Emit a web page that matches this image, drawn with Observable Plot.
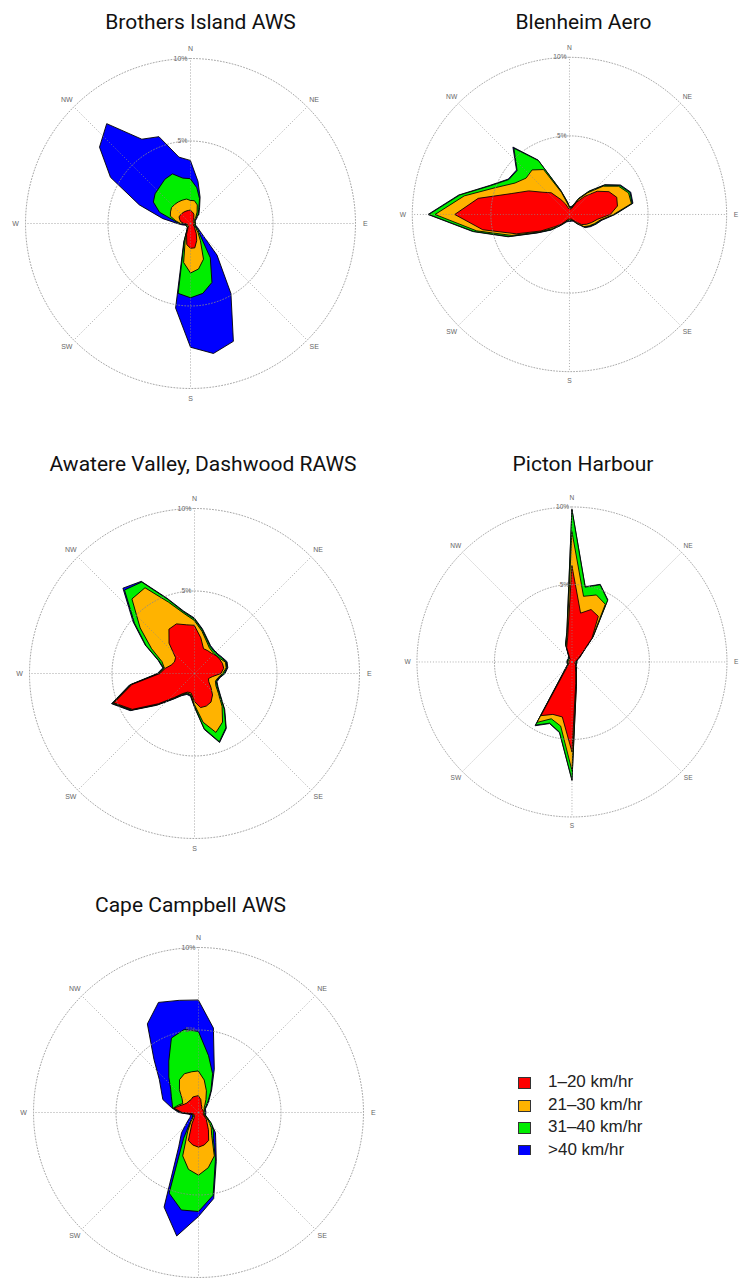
<!DOCTYPE html>
<html>
<head>
<meta charset="utf-8">
<script src="https://cdn.jsdelivr.net/npm/d3@7"></script>
<script src="https://cdn.jsdelivr.net/npm/@observablehq/plot@0.6"></script>
<style>
  html, body { margin: 0; padding: 0; background: #fff; overflow: hidden; }
  #page { position: relative; width: 750px; height: 1285px; overflow: hidden; }
  .title { position: absolute; font-family: Roboto, "Noto Sans", sans-serif; font-size: 21px; line-height: 21px;
           color: #111; white-space: nowrap; transform: translateX(-50%); }
  .rose { position: absolute; }
  .rose svg { display: block; overflow: visible; }
  #legend { position: absolute; left: 518px; top: 1075px; width: 200px; height: 80px; overflow: hidden;
            font-family: "Liberation Sans", Arial, sans-serif; font-size: 17px; color: #222; }
  .row { position: relative; height: 22.5px; }
  .sw { position: absolute; left: 0; top: 2px; width: 11px; height: 10px; border: 1px solid #333; }
  .lab { position: absolute; left: 30px; top: -3px; white-space: nowrap; line-height: 20px; }
</style>
</head>
<body>
<div id="page"></div>
<script>
// ---- categories / labels ----
const directions = d3.range(0, 360, 10);            // degrees clockwise from north
const bands = ["1\u201320 km/hr", "21\u201330 km/hr", "31\u201340 km/hr", ">40 km/hr"];
const bandColors = ["#ff0000", "#ffb300", "#00ee00", "#0000ff"];
const compassLabels = ["N", "NE", "E", "SE", "S", "SW", "W", "NW"];
const compassAngles = [0, 45, 90, 135, 180, 225, 270, 315];
const ringValues = [5, 10];
const ringLabels = ["5%", "10%"];
const stationNames = ["Brothers Island AWS", "Blenheim Aero", "Awatere Valley, Dashwood RAWS", "Picton Harbour", "Cape Campbell AWS"];

// ---- cumulative frequency (%) per direction: [<=20, <=30, <=40, all] ----
const brothersIsland = [
  [0.8,0.7,0.6,0.4,0.3,0.2,0.2,0.2,0.2,0.2, 0.2,0.2,0.2,0.3,0.4,0.7,1.1,1.5,1.5,1.3, 0.7,0.3,0.2,0.2,0.2,0.2,0.2,0.4,0.6,0.7, 0.8,0.8,0.8,0.8,0.8,0.8],
  [1.4,1.4,1.2,0.8,0.5,0.3,0.25,0.25,0.25,0.25, 0.25,0.25,0.25,0.4,0.7,1.2,2.3,2.8,3.0,2.4, 0.9,0.4,0.25,0.25,0.25,0.25,0.25,0.6,0.9,1.3, 1.4,1.5,1.5,1.5,1.5,1.5],
  [2.7,2.2,1.6,1.0,0.7,0.4,0.3,0.3,0.3,0.3, 0.3,0.3,0.35,0.6,0.9,2.4,3.8,4.3,4.5,4.3, 1.1,0.4,0.3,0.3,0.3,0.3,0.3,0.7,1.0,2.0, 2.6,2.8,2.9,3.1,3.2,2.8],
  [3.8,2.6,1.7,1.1,0.8,0.5,0.35,0.3,0.3,0.3, 0.3,0.35,0.5,0.8,2.5,4.9,7.6,8.0,7.5,5.2, 1.2,0.4,0.3,0.3,0.3,0.3,0.5,0.8,1.7,3.3, 5.6,7.2,7.9,5.9,5.6,4.1]
];
const blenheimAero = [
  [0.4,0.35,0.4,0.9,1.5,2.3,2.9,3.2,3.1,2.6, 1.8,1.5,1.25,1.0,0.6,0.4,0.3,0.3,0.3,0.3, 0.35,0.5,0.8,1.2,2.1,3.6,5.6,7.3,5.9,3.9, 3.0,2.2,1.8,1.1,0.7,0.4],
  [0.45,0.4,0.5,1.1,1.8,2.8,3.6,4.0,4.0,2.8, 2.0,1.7,1.45,1.2,0.7,0.4,0.35,0.35,0.35,0.35, 0.4,0.55,0.85,1.4,2.2,3.9,6.0,8.55,6.8,5.0, 4.0,3.6,3.7,3.3,1.5,0.7],
  [0.5,0.45,0.55,1.15,1.9,2.9,3.7,4.1,4.05,2.85, 2.05,1.75,1.5,1.25,0.75,0.45,0.4,0.4,0.4,0.4, 0.45,0.6,0.9,1.5,2.3,4.1,6.2,8.95,7.1,5.35, 4.45,4.35,5.5,3.96,1.6,0.8],
  [0.55,0.5,0.6,1.2,1.95,2.95,3.75,4.15,4.1,2.9, 2.1,1.8,1.55,1.3,0.8,0.5,0.45,0.45,0.45,0.45, 0.5,0.65,0.95,1.55,2.35,4.15,6.25,9.0,7.15,5.4, 4.5,4.4,5.6,4.0,1.65,0.85]
];
const awatereDashwood = [
  [2.9,2.2,1.6,1.6,1.6,1.7,1.75,1.8,1.8,1.6, 1.1,0.9,1.0,1.3,1.7,2.0,2.1,2.1,1.7,1.2, 1.2,1.4,1.9,2.85,4.35,5.2,3.85,2.1,1.8,1.5, 1.4,1.5,2.4,3.1,3.2,3.0],
  [3.2,2.6,2.1,1.8,1.7,1.7,1.8,2.0,1.95,1.7, 1.45,1.35,1.5,1.9,2.6,3.4,3.8,3.0,1.9,1.3, 1.25,1.45,1.95,2.9,4.4,5.25,3.9,2.15,1.85,2.1, 3.0,4.3,5.9,6.0,4.6,3.7],
  [3.3,2.7,2.2,1.9,1.8,1.8,1.9,2.05,2.0,1.8, 1.5,1.4,1.6,2.0,2.8,3.8,4.4,3.4,2.0,1.35, 1.3,1.5,2.0,2.95,4.45,5.3,3.95,2.2,1.9,2.3, 3.4,4.75,6.6,6.4,4.8,3.8],
  [3.35,2.75,2.25,1.95,1.85,1.85,1.95,2.1,2.05,1.85, 1.55,1.45,1.65,2.05,2.85,3.85,4.45,3.45,2.05,1.4, 1.35,1.55,2.05,3.0,4.5,5.35,4.0,2.25,1.95,2.35, 3.45,4.85,6.75,6.45,4.85,3.85]
];
const pictonHarbour = [
  [6.2,3.2,3.6,3.4,2.0,0.8,0.5,0.3,0.25,0.2, 0.2,0.2,0.25,0.3,0.35,0.45,0.7,1.4,5.8,3.6, 3.6,4.0,0.6,0.35,0.25,0.2,0.2,0.2,0.2,0.2, 0.2,0.2,0.2,0.3,1.0,1.6],
  [8.4,4.3,4.6,4.3,2.05,0.8,0.5,0.3,0.25,0.25, 0.25,0.25,0.3,0.3,0.4,0.5,0.75,1.5,7.0,4.2, 3.9,4.5,0.7,0.4,0.3,0.25,0.25,0.25,0.25,0.25, 0.25,0.25,0.25,0.35,1.1,1.8],
  [9.8,4.9,5.3,4.6,2.1,0.85,0.55,0.35,0.3,0.3, 0.3,0.3,0.3,0.35,0.45,0.55,0.8,1.6,7.6,4.6, 4.2,4.7,0.8,0.45,0.3,0.3,0.3,0.3,0.3,0.3, 0.3,0.3,0.3,0.4,1.2,1.9],
  [9.85,4.93,5.33,4.63,2.13,0.88,0.58,0.38,0.33,0.33, 0.33,0.33,0.33,0.38,0.48,0.58,0.83,1.63,7.65,4.63, 4.23,4.75,0.83,0.48,0.33,0.33,0.33,0.33,0.33,0.33, 0.33,0.33,0.33,0.43,1.23,1.93]
];
const capeCampbell = [
  [1.0,0.8,0.5,0.4,0.3,0.3,0.3,0.3,0.3,0.3, 0.3,0.3,0.4,0.6,0.8,1.2,1.8,2.0,2.1,2.0, 1.8,0.8,0.4,0.3,0.3,0.3,0.4,1.0,1.5,1.2, 1.0,0.9,0.9,0.9,1.0,1.0],
  [2.5,2.0,1.4,0.9,0.6,0.45,0.4,0.35,0.35,0.35, 0.35,0.35,0.5,0.8,1.2,1.6,2.8,3.4,3.8,3.5, 2.8,1.3,0.7,0.4,0.35,0.35,0.45,1.05,1.55,1.3, 1.1,1.3,1.8,2.3,2.5,2.5],
  [4.9,3.5,2.5,1.5,0.9,0.6,0.45,0.4,0.4,0.4, 0.4,0.4,0.6,1.0,1.4,1.8,3.0,5.1,6.0,6.0, 5.2,1.8,0.8,0.5,0.4,0.4,0.5,1.1,1.6,1.7, 1.9,2.2,2.8,3.6,4.8,5.1],
  [6.8,5.2,2.8,1.6,1.0,0.7,0.5,0.45,0.45,0.45, 0.45,0.45,0.6,1.0,1.6,2.1,3.15,5.3,6.3,7.6, 6.1,2.4,1.6,0.9,0.6,0.5,0.6,1.2,1.65,2.3, 2.6,3.1,4.2,6.2,7.1,6.9]
];

const stationData = [brothersIsland, blenheimAero, awatereDashwood, pictonHarbour, capeCampbell];

// ---- layout (page positions) ----
const roseCenters = [[190, 222.7], [578, 222.7], [194, 672.7], [583, 673.3], [198, 1111.7]];
const titleSpots = [[200.5, 12], [583.5, 12], [203, 454], [583, 454], [190.5, 895]];
const HALF = 190;            // half size of each rose svg in px
const PX_PER_PCT = 16.5;     // 10% ring = 165 px
const D = HALF / PX_PER_PCT;

const rad = (deg) => deg * Math.PI / 180;
const px = (r, deg) => r * Math.sin(rad(deg));
const py = (r, deg) => r * Math.cos(rad(deg));

function rose(values) {
  const gridStyle = { stroke: "#8a8a8a", strokeWidth: 0.9, strokeDasharray: "1,2", strokeOpacity: 0.85 };
  const rings = ringValues.flatMap((r) => d3.range(0, 361, 2).map((a) => ({ ring: r, a })));
  const bandMarks = [3, 2, 1, 0].map((b) =>
    Plot.line(directions, {
      x: (d, i) => px(values[b][i], d),
      y: (d, i) => py(values[b][i], d),
      curve: "linear-closed",
      fill: bandColors[b],
      stroke: "#000",
      strokeWidth: 0.9,
      strokeLinejoin: "round"
    })
  );
  return Plot.plot({
    width: HALF * 2,
    height: HALF * 2,
    margin: 0,
    x: { domain: [-D, D], axis: null },
    y: { domain: [-D, D], axis: null },
    style: { background: "transparent", overflow: "visible" },
    marks: [
      ...bandMarks,
      Plot.line(rings, { x: (d) => px(d.ring, d.a), y: (d) => py(d.ring, d.a), z: "ring", ...gridStyle }),
      Plot.link(compassAngles, { x1: 0, y1: 0, x2: (a) => px(10, a), y2: (a) => py(10, a), ...gridStyle }),
      Plot.text(compassAngles, {
        x: (a) => px(10.6, a), y: (a) => py(10.6, a),
        text: (a, i) => compassLabels[i],
        fontSize: 7, fill: "#666", fontFamily: "Liberation Sans, Arial, sans-serif"
      }),
      Plot.text(ringValues, {
        x: 0, y: (r) => r, text: (r, i) => ringLabels[i],
        textAnchor: "end", dx: -3, fontSize: 7, fill: "#666", fontFamily: "Liberation Sans, Arial, sans-serif"
      })
    ]
  });
}

const page = document.getElementById("page");
stationData.forEach((vals, k) => {
  const t = document.createElement("div");
  t.className = "title";
  t.textContent = stationNames[k];
  t.style.left = titleSpots[k][0] + "px";
  t.style.top = titleSpots[k][1] + "px";
  page.appendChild(t);

  const holder = document.createElement("div");
  holder.className = "rose";
  holder.style.left = (roseCenters[k][0] - HALF) + "px";
  holder.style.top = (roseCenters[k][1] - HALF) + "px";
  holder.appendChild(rose(vals));
  page.appendChild(holder);
});

// ---- legend ----
const legend = document.createElement("div");
legend.id = "legend";
bands.forEach((b, i) => {
  const row = document.createElement("div");
  row.className = "row";
  const sw = document.createElement("div");
  sw.className = "sw";
  sw.style.background = bandColors[i];
  const lab = document.createElement("div");
  lab.className = "lab";
  lab.textContent = b;
  row.appendChild(sw);
  row.appendChild(lab);
  legend.appendChild(row);
});
page.appendChild(legend);
</script>
</body>
</html>
